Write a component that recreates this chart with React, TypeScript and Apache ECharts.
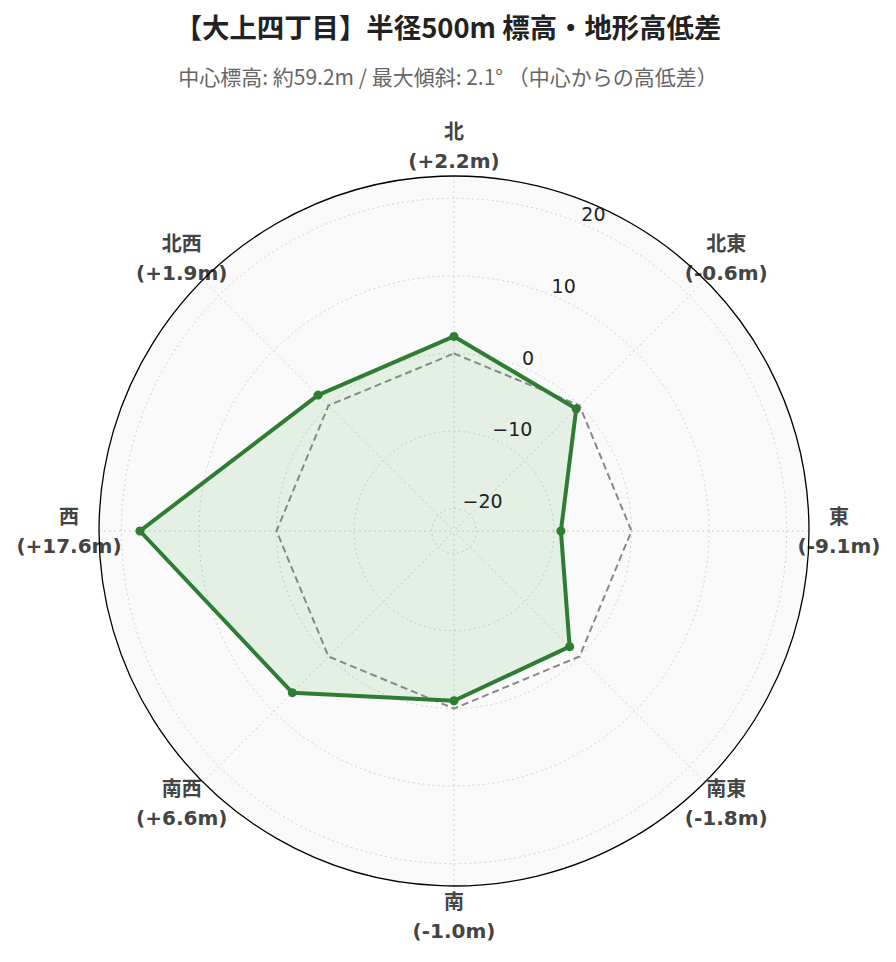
import React, { useEffect, useRef } from 'react';
import * as echarts from 'echarts';

const titleText = '【大上四丁目】半径500m 標高・地形高低差';
const subtitleText = '中心標高: 約59.2m / 最大傾斜: 2.1° （中心からの高低差）';

const directions = ['北', '北東', '東', '南東', '南', '南西', '西', '北西'];
const directionAngles = [0, 45, 90, 135, 180, 225, 270, 315];
const elevationDiff = [2.2, -0.6, -9.1, -1.8, -1.0, 6.6, 17.6, 1.9];
const centerLevel = [0, 0, 0, 0, 0, 0, 0, 0];
const radialTicks = [-20, -10, 0, 10, 20];
const radialMin = -22.88;
const radialMax = 22.88;

const LABEL_FONT = '"DejaVu Sans", "Noto Sans CJK JP", sans-serif';
const TITLE_FONT = '"Noto Sans CJK JP", "Noto Sans", sans-serif';
const GRID_LINE = { color: '#d2d2d2', type: [2, 3], width: 1 };

// label block: W x H, centred at distance (r + margin) + SHIFT from the centre
const LABEL_W = 120;
const LABEL_H = 58;
const LABEL_SHIFT = 90;

function labelPadding(deg: number): number[] {
  const a = (deg * Math.PI) / 180;
  const sx = Math.sin(a);
  const sy = Math.cos(a);
  const pad = [0, 0, 0, 0];
  if (Math.abs(sx) > 0.3) {
    const p = Math.max(0, LABEL_SHIFT * Math.abs(sx) - LABEL_W / 2);
    if (sx > 0) pad[3] = p;
    else pad[1] = p;
  }
  if (Math.abs(sy) > 0.3) {
    const p = Math.max(0, LABEL_SHIFT * Math.abs(sy) - LABEL_H / 2);
    if (sy > 0) pad[2] = p;
    else pad[0] = p;
  }
  return pad;
}

const fmtDiff = (v: number) => (v > 0 ? '+' : '') + v.toFixed(1) + 'm';

function closedRing(values: number[]) {
  const pts: any[] = values.map((v, i) => [v, directionAngles[i]]);
  pts.push({ value: [values[0], 360], symbol: 'none' });
  return pts;
}

const App: React.FC = () => {
  const chartRef = useRef<HTMLDivElement>(null);

  useEffect(() => {
    document.body.style.margin = '0';
    if (!chartRef.current) return;
    const chart = echarts.init(chartRef.current, null, { renderer: 'svg' });

    const center = [454, 531];
    const radius = 355;
    const labelStyle = {
      width: LABEL_W,
      align: 'center',
      fontSize: 20,
      fontWeight: 'bold',
      lineHeight: 29,
      color: '#444',
      fontFamily: LABEL_FONT
    };

    const option: any = {
      animation: false,
      backgroundColor: '#fff',
      title: [
        {
          text: titleText,
          left: 'center',
          top: 7,
          textStyle: { fontSize: 27.4, fontWeight: 'bold', color: '#222', fontFamily: TITLE_FONT }
        },
        {
          text: subtitleText,
          left: 'center',
          top: 60,
          textStyle: { fontSize: 21, fontWeight: 'normal', color: '#666', fontFamily: TITLE_FONT }
        }
      ],
      // 0: direction labels + spokes / 1: outer ring + radial tick labels / 2: data + background
      polar: [
        { center, radius },
        { center, radius },
        { center, radius }
      ],
      angleAxis: [
        {
          polarIndex: 0,
          type: 'category',
          z: 5,
          data: directions.map((d, i) => ({
            value: d,
            textStyle: { padding: labelPadding(directionAngles[i]) }
          })),
          boundaryGap: false,
          startAngle: 90,
          clockwise: true,
          axisLine: { show: false },
          axisTick: { show: false },
          axisLabel: {
            interval: 0,
            margin: -60,
            fontFamily: LABEL_FONT,
            formatter: (value: string) => {
              const i = directions.indexOf(value);
              return `{d|${value}}\n{v|(${fmtDiff(elevationDiff[i])})}`;
            },
            rich: { d: labelStyle, v: labelStyle }
          },
          splitLine: { show: true, lineStyle: GRID_LINE },
          splitArea: { show: false }
        },
        {
          polarIndex: 1,
          type: 'value',
          min: 0,
          max: 360,
          startAngle: 67.5,
          z: 8,
          axisLine: { show: true, lineStyle: { color: '#000', width: 1.3 } },
          axisTick: { show: false },
          axisLabel: { show: false },
          splitLine: { show: false },
          splitArea: { show: false }
        },
        {
          polarIndex: 2,
          type: 'value',
          min: 0,
          max: 360,
          interval: 90,
          startAngle: 90,
          clockwise: true,
          z: 0,
          axisLine: { show: false },
          axisTick: { show: false },
          axisLabel: { show: false },
          splitLine: { show: false },
          splitArea: { show: true, areaStyle: { color: ['#fafafa'] } }
        }
      ],
      radiusAxis: [
        {
          polarIndex: 0,
          type: 'value',
          min: radialMin,
          max: radialMax,
          show: false
        },
        {
          polarIndex: 1,
          type: 'value',
          min: radialMin,
          max: radialMax,
          z: 10,
          axisLine: { show: false },
          axisTick: { show: false, customValues: radialTicks },
          axisLabel: {
            customValues: radialTicks,
            margin: 0,
            align: 'left',
            verticalAlign: 'bottom',
            fontSize: 19,
            color: '#222',
            fontFamily: LABEL_FONT,
            formatter: (v: number) => (v < 0 ? '\u2212' + Math.abs(v) : String(v))
          },
          splitLine: { show: false }
        },
        {
          polarIndex: 2,
          type: 'value',
          min: radialMin,
          max: radialMax,
          z: 1,
          axisLine: { show: false },
          axisTick: { show: false, customValues: radialTicks },
          axisLabel: { show: false },
          splitLine: { show: true, lineStyle: GRID_LINE }
        }
      ],
      series: [
        {
          name: '中心標高',
          type: 'line',
          coordinateSystem: 'polar',
          polarIndex: 2,
          data: closedRing(centerLevel),
          symbol: 'none',
          lineStyle: { color: '#888', width: 2, type: [7, 4] },
          z: 6
        },
        {
          name: '高低差',
          type: 'line',
          coordinateSystem: 'polar',
          polarIndex: 2,
          data: closedRing(elevationDiff),
          symbol: 'circle',
          symbolSize: 9,
          lineStyle: { color: '#2e7d32', width: 4 },
          itemStyle: { color: '#2e7d32' },
          areaStyle: { color: 'rgba(76, 175, 80, 0.18)', origin: 'start' },
          z: 7
        }
      ]
    };

    chart.setOption(option);

    const handleResize = () => chart.resize();
    window.addEventListener('resize', handleResize);
    return () => {
      window.removeEventListener('resize', handleResize);
      chart.dispose();
    };
  }, []);

  return <div ref={chartRef} style={{ width: '896px', height: '962px' }} />;
};

export default App;
